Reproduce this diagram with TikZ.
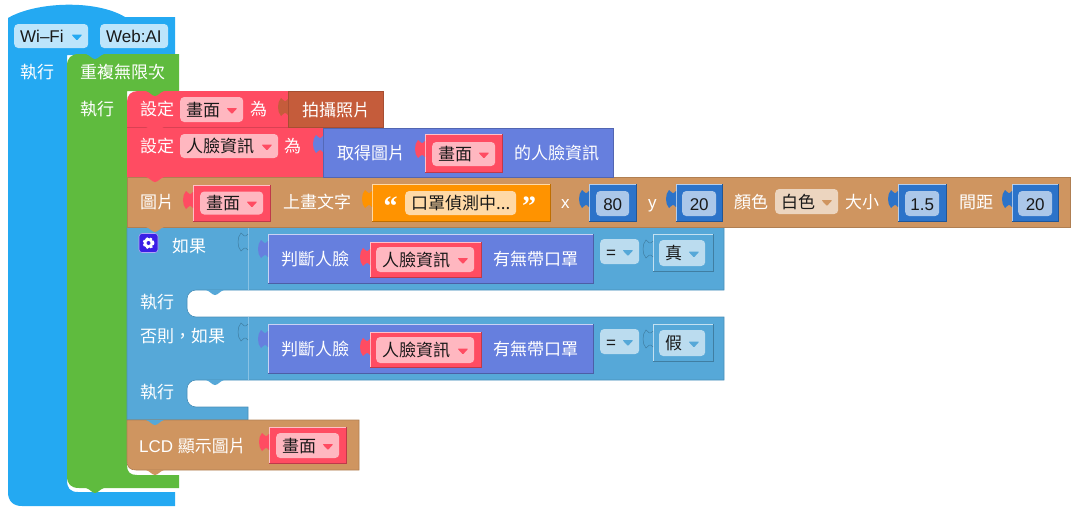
\documentclass[tikz,border=0pt]{standalone}
\usepackage{xcolor}
\usepackage{fontspec}
\setmainfont{Liberation Sans}
\newfontfamily\cjk{Noto Sans CJK TC}
\newfontfamily\quotefont{Liberation Serif}

\definecolor{wifiblue}{HTML}{24A9F2}
\definecolor{loopgreen}{HTML}{5FBB3E}
\definecolor{varred}{HTML}{FF4C62}
\definecolor{brick}{HTML}{C55C3B}
\definecolor{facepurple}{HTML}{667FDE}
\definecolor{imgtan}{HTML}{CF9560}
\definecolor{logiccyan}{HTML}{56A8D8}
\definecolor{numblue}{HTML}{2C73C9}
\definecolor{strorange}{HTML}{FF9300}
\definecolor{gearblue}{HTML}{3B1FE6}

\tikzset{
  lbl/.style={text=white,inner sep=0pt,anchor=west,text height=15pt,text depth=2pt,font=\fontsize{17}{20}\selectfont},
  pillbox/.style={rectangle,rounded corners=4pt,text=black!90,inner ysep=0pt,inner xsep=6pt,anchor=west,
    text height=15pt,text depth=2pt,align=left,font=\fontsize{17}{20}\selectfont},
}

% x0 x1 yc height fill name text
\newcommand{\pill}[7]{
  \pgfmathsetmacro\pillw{#2-#1-12}
  \path (#1,#3) node(#6) [pillbox,fill=#5,text width=\pillw pt,minimum height=#4 pt] {#7};
}
\newcommand{\ddarrow}[2]{
  \fill[#2,rounded corners=1pt] (#1.east) ++(-17,-1.5) -- ++(11,0) -- ++(-5.5,6) -- cycle;
}
% tab on the left side of a block: x, top y, colour
\newcommand{\tabcurve}[2]{
  (#1,#2) .. controls (#1-3,#2+4) and (#1-5,#2+1) .. (#1-7,#2-1)
  .. controls (#1-11,#2+3) and (#1-11,#2+13) .. (#1-7,#2+17)
  .. controls (#1-5,#2+15) and (#1-3,#2+12) .. (#1,#2+16)
}
\newcommand{\lefttab}[3]{
  \fill[#3] \tabcurve{#1}{#2} -- cycle;
}
\newcommand{\sockettab}[3]{
  \filldraw[fill=#3,draw=#3!75!black,line width=.5pt] \tabcurve{#1}{#2};
}
% tab under a block: x, y, colour
\newcommand{\notchtab}[3]{
  \fill[#3] (#1,#2) .. controls +(4,1) and +(-3,0) .. ++(9,5) .. controls +(3,0) and +(-4,1) .. ++(9,-5) -- cycle;
}
% x0 x1 y0 y1 colour
\newcommand{\valblock}[5]{
  \filldraw[fill=#5,draw=#5!75!black,line width=.7pt] (#1,#3) rectangle (#2,#4);
  \draw[white!65!#5,line width=.6pt] (#1,#4) -- (#1,#3) -- (#2,#3);
  \lefttab{#1}{#3+7}{#5}
}

\begin{document}
\begin{tikzpicture}[x=1pt,y=-1pt]
\useasboundingbox (0,0) rectangle (1079,512);

% outer blocks
\fill[wifiblue] (8,18) .. controls (35,2) and (95,-1) .. (125,17) -- (175,17) -- (175,55) -- (67,55)
  -- (67,480) .. controls (67,488) and (70,492) .. (78,492) -- (175,492) -- (175,506) -- (22,506)
  .. controls (13,506) and (8,501) .. (8,492) -- cycle;
\fill[loopgreen] (67,66) .. controls (67,58) and (71,54) .. (79,54) -- (179,54) -- (179,91) -- (127,91)
  -- (127,465) .. controls (127,472) and (130,475) .. (137,475) -- (179,475) -- (179,488) -- (79,488)
  .. controls (71,488) and (67,484) .. (67,476) -- cycle;
\notchtab{86}{54}{wifiblue}
\notchtab{86}{488}{loopgreen}

% logic block with its two holes
\filldraw[fill=logiccyan,draw=logiccyan!85!black,line width=.6pt] (127,227) -- (724,227) -- (724,290)
  [rounded corners=9pt] -- (187,290) -- (187,317) [sharp corners] -- (724,317) -- (724,380)
  [rounded corners=9pt] -- (187,380) -- (187,407) [sharp corners] -- (248,407) -- (248,420) -- (127,420) -- cycle;
\draw[logiccyan!70!white,line width=.6pt] (248,227) -- (248,290) (248,317) -- (248,380);
\notchtab{206}{290}{logiccyan}
\notchtab{206}{380}{logiccyan}
\sockettab{248}{234}{logiccyan}
\sockettab{248}{324}{logiccyan}

% statement rows
\filldraw[fill=imgtan,draw=imgtan!85!black,line width=.6pt] (127,177.5) rectangle (1070,227);
\filldraw[fill=imgtan,draw=imgtan!85!black,line width=.6pt] (127,420) -- (359,420) -- (359,470) -- (136,470)
  .. controls (130,470) and (127,467) .. (127,461) -- cycle;
\fill[varred] (127,127) rectangle (323,177);
\fill[varred] (127,102) .. controls (127,95) and (131,91) .. (138,91) -- (288,91) -- (288,127) -- (127,127) -- cycle;
\draw[varred!85!black,line width=.5pt] (127,127) -- (323,127);
\filldraw[fill=brick,draw=brick!85!black,line width=.5pt] (288,91) rectangle (383,127);
\lefttab{288}{99}{brick}
\filldraw[fill=facepurple,draw=facepurple!80!black,line width=.5pt] (323,128) rectangle (613,177);
\lefttab{323}{136}{facepurple}
\notchtab{146}{91}{loopgreen}
\notchtab{146}{127}{varred}
\notchtab{146}{177}{varred}
\notchtab{146}{227}{imgtan}
\notchtab{146}{420}{logiccyan}
\notchtab{146}{470}{imgtan}

% value blocks
\valblock{425}{502}{134}{172}{varred}
\valblock{193}{270}{185}{221}{varred}
\valblock{372}{550}{184}{221}{strorange}
\valblock{589}{636}{184}{221}{numblue}
\valblock{676}{722}{184}{221}{numblue}
\valblock{898}{946}{184}{221}{numblue}
\valblock{1012}{1058}{184}{221}{numblue}
\valblock{268}{593}{234}{283}{facepurple}
\valblock{370}{481}{242}{277}{varred}
\valblock{268}{593}{324}{373}{facepurple}
\valblock{370}{481}{332}{367}{varred}
\valblock{269}{346}{427}{463}{varred}
% boolean blocks keep an outlined socket
\filldraw[fill=logiccyan,draw=logiccyan!75!black,line width=.7pt] (653,234) rectangle (713,271);
\draw[white!65!logiccyan,line width=.6pt] (653,271) -- (653,234) -- (713,234);
\sockettab{653}{241}{logiccyan}
\filldraw[fill=logiccyan,draw=logiccyan!75!black,line width=.7pt] (653,324) rectangle (713,361);
\draw[white!65!logiccyan,line width=.6pt] (653,361) -- (653,324) -- (713,324);
\sockettab{653}{331}{logiccyan}

% dropdowns
\pill{14}{88}{36}{24}{wifiblue!30!white}{boardsel}{Wi–Fi}
\ddarrow{boardsel}{wifiblue}
\pill{100}{168}{36}{24}{wifiblue!30!white}{aisel}{Web:AI}
\pill{180}{243}{109.5}{25}{varred!40!white}{varimg}{\cjk 畫面}
\ddarrow{varimg}{varred}
\pill{180}{278}{146}{24}{varred!40!white}{varface}{\cjk 人臉資訊}
\ddarrow{varface}{varred}
\pill{432}{495}{154}{24}{varred!40!white}{getimg}{\cjk 畫面}
\ddarrow{getimg}{varred}
\pill{200}{263}{203}{23}{varred!40!white}{drawimg}{\cjk 畫面}
\ddarrow{drawimg}{varred}
\pill{405}{516}{203}{24}{strorange!35!white}{msgtext}{\cjk 口罩偵測中...}
\pill{596}{629}{203.5}{25}{numblue!40!white}{numx}{\makebox[\linewidth]{80}}
\pill{682}{716}{203.5}{25}{numblue!40!white}{numy}{\makebox[\linewidth]{20}}
\pill{775}{838}{201.5}{25}{imgtan!40!white}{colorsel}{\cjk 白色}
\ddarrow{colorsel}{imgtan}
\pill{905}{939}{203.5}{25}{numblue!40!white}{numsize}{\makebox[\linewidth]{1.5}}
\pill{1018}{1052}{203.5}{25}{numblue!40!white}{numgap}{\makebox[\linewidth]{20}}
\pill{376}{474}{259.5}{25}{varred!40!white}{faceone}{\cjk 人臉資訊}
\ddarrow{faceone}{varred}
\pill{376}{474}{350}{26}{varred!40!white}{facetwo}{\cjk 人臉資訊}
\ddarrow{facetwo}{varred}
\pill{600}{639}{251.5}{25}{logiccyan!40!white}{eqone}{=}
\ddarrow{eqone}{logiccyan}
\pill{600}{639}{341.5}{25}{logiccyan!40!white}{eqtwo}{=}
\ddarrow{eqtwo}{logiccyan}
\pill{659}{705}{253}{26}{logiccyan!40!white}{boolone}{\cjk 真}
\ddarrow{boolone}{logiccyan}
\pill{659}{705}{343}{26}{logiccyan!40!white}{booltwo}{\cjk 假}
\ddarrow{booltwo}{logiccyan}
\pill{276}{339}{445.5}{25}{varred!40!white}{lcdimg}{\cjk 畫面}
\ddarrow{lcdimg}{varred}

% gear
\path (148.5,243) node(gearbox) [rectangle,rounded corners=3pt,fill=gearblue,draw=gearblue!40!white,line width=.6pt,minimum size=19pt,inner sep=0pt] {};
\draw[white,line width=2pt,dash pattern=on 2.2pt off 1.9pt] (gearbox.center) circle (5pt);
\fill[white] (gearbox.center) circle (5pt);
\fill[gearblue] (gearbox.center) circle (2pt);

% labels
\path
(20,72) node(doa) [lbl] {\cjk 執行}
(80,72) node(loop) [lbl] {\cjk 重複無限次}
(80,109) node(dob) [lbl] {\cjk 執行}
(140,109) node(seta) [lbl] {\cjk 設定}
(250,109) node(asa) [lbl] {\cjk 為}
(302,110) node(photo) [lbl] {\cjk 拍攝照片}
(140,146) node(setb) [lbl] {\cjk 設定}
(284,146) node(asb) [lbl] {\cjk 為}
(337,153) node(getface) [lbl] {\cjk 取得圖片}
(514,153) node(faceinfo) [lbl] {\cjk 的人臉資訊}
(140,202) node(pic) [lbl] {\cjk 圖片}
(283,202) node(drawtext) [lbl] {\cjk 上畫文字}
(383.5,209) node(lquote) [lbl,font=\fontsize{28}{28}\selectfont\quotefont\bfseries] {“}
(522,209) node(rquote) [lbl,font=\fontsize{28}{28}\selectfont\quotefont\bfseries] {”}
(561,202) node(xlab) [lbl] {x}
(648,202) node(ylab) [lbl] {y}
(734,202) node(colorlab) [lbl] {\cjk 顏色}
(845,202) node(sizelab) [lbl] {\cjk 大小}
(959,202) node(gaplab) [lbl] {\cjk 間距}
(172,246) node(ifa) [lbl] {\cjk 如果}
(281,259) node(judgea) [lbl] {\cjk 判斷人臉}
(493,259) node(maska) [lbl] {\cjk 有無帶口罩}
(140,302) node(doc) [lbl] {\cjk 執行}
(140,336) node(elseif) [lbl] {\cjk 否則，如果}
(281,349) node(judgeb) [lbl] {\cjk 判斷人臉}
(493,349) node(maskb) [lbl] {\cjk 有無帶口罩}
(140,392) node(dod) [lbl] {\cjk 執行}
(139,446) node(lcd) [lbl] {LCD {\cjk 顯示圖片}};
\end{tikzpicture}
\end{document}
